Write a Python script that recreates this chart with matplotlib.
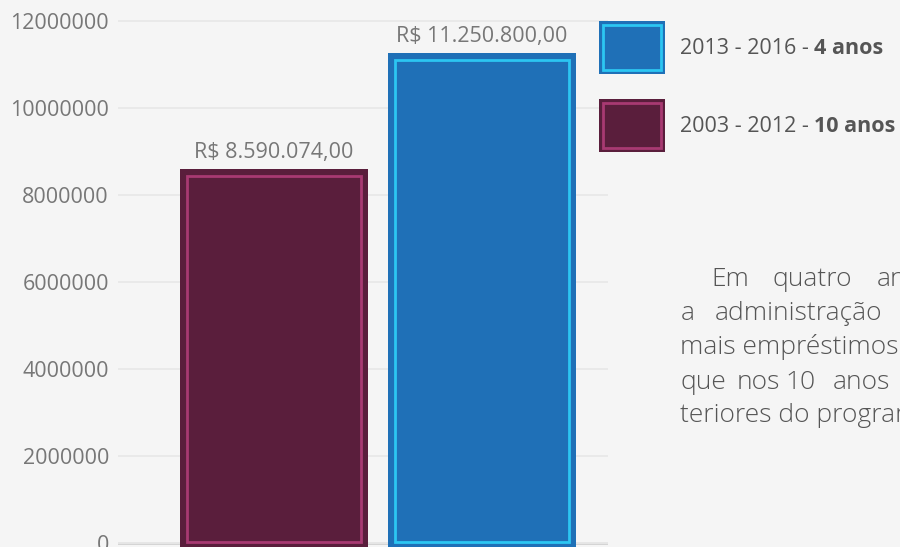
import matplotlib
matplotlib.use('Agg')
import matplotlib.pyplot as plt
from matplotlib.patches import Rectangle
from matplotlib.ticker import FuncFormatter

# dados do gráfico
periodos = ['2003 - 2012', '2013 - 2016']
duracoes = ['10 anos', '4 anos']
valores = [8590074.00, 11250800.00]
y_ticks = [0, 2000000, 4000000, 6000000, 8000000, 10000000, 12000000]

cores = ['#5a1e3c', '#1f70b7']
bordas = ['#a83a72', '#2cc6f2']

texto_linhas = [
    ['Em', 'quatro', 'anos,'],
    ['a', 'administração'],
    ['mais empréstimos'],
    ['que', 'nos', '10', 'anos'],
    ['teriores do programa.'],
]
texto_x = [[711, 773, 877], [681, 715], [680], [681, 737, 785, 833], [680]]
texto_y = [286, 320, 354, 389, 422]

W, H = 900, 547
plt.rcParams['font.family'] = ['Open Sans', 'DejaVu Sans']


def fx(px):
    return px / W


def fy(py):
    return 1 - py / H


def reais(v):
    s = f'{v:,.2f}'.replace(',', 'X').replace('.', ',').replace('X', '.')
    return 'R$ ' + s


fig = plt.figure(figsize=(W / 100, H / 100), dpi=100)
fig.patch.set_facecolor('#f5f5f5')
ax = fig.add_axes([fx(118), 0, (608 - 118) / W, 1])
ax.set_facecolor('#f5f5f5')

y0 = -92000
ax.set_ylim(y0, 12476000)
ax.set_xlim(-0.75, 1.606)

x = list(range(len(valores)))
largura = 0.904
ax.bar(x, [v - y0 for v in valores], bottom=y0, width=largura, color=cores, zorder=2)
# borda interna
ax.bar(x, [v - 184000 for v in valores], bottom=20000, width=largura - 0.068,
       fill=False, edgecolor=bordas, linewidth=2, zorder=3)

for xi, v in zip(x, valores):
    ax.annotate(reais(v), xy=(xi, v), xytext=(0, 8), textcoords='offset points',
                ha='center', va='baseline', fontsize=15.5, color='#777777')

ax.set_yticks(y_ticks)
ax.yaxis.set_major_formatter(FuncFormatter(lambda v, p: f'{int(v)}'))
ax.tick_params(axis='y', length=0, pad=6.5, labelsize=15.5, labelcolor='#777777')
ax.set_xticks([])
for s in ax.spines.values():
    s.set_visible(False)
ax.grid(axis='y', color='#e8e8e8', linewidth=1.3, zorder=0)
ax.axhline(0, color='#d0d0d0', linewidth=2, zorder=1)

# legenda (ordem invertida: mais recente em cima)
leg_y = [21, 99]
for i, idx in enumerate([1, 0]):
    top = leg_y[i]
    fig.patches.append(Rectangle((fx(599), fy(top + 53)), 66 / W, 53 / H,
                                 transform=fig.transFigure, facecolor=cores[idx],
                                 edgecolor='none'))
    fig.patches.append(Rectangle((fx(603), fy(top + 49)), 58 / W, 45 / H,
                                 transform=fig.transFigure, facecolor='none',
                                 edgecolor=bordas[idx], linewidth=2))
    t1 = fig.text(fx(680), fy(top + 28), periodos[idx] + ' - ', va='center', ha='left',
                  fontsize=15.5, color='#555555')
    ax.annotate(duracoes[idx], xy=(1, 0), xycoords=t1, ha='left', va='bottom',
                fontsize=15.5, color='#555555', fontweight='bold', annotation_clip=False)

# texto lateral (justificado, cortado na borda direita)
for palavras, xs, yb in zip(texto_linhas, texto_x, texto_y):
    for p, xp in zip(palavras, xs):
        fig.text(fx(xp), fy(yb), p, ha='left', va='baseline', fontsize=19,
                 color='#555555', fontweight='light')

fig.savefig('out.png', dpi=100, facecolor=fig.get_facecolor())
